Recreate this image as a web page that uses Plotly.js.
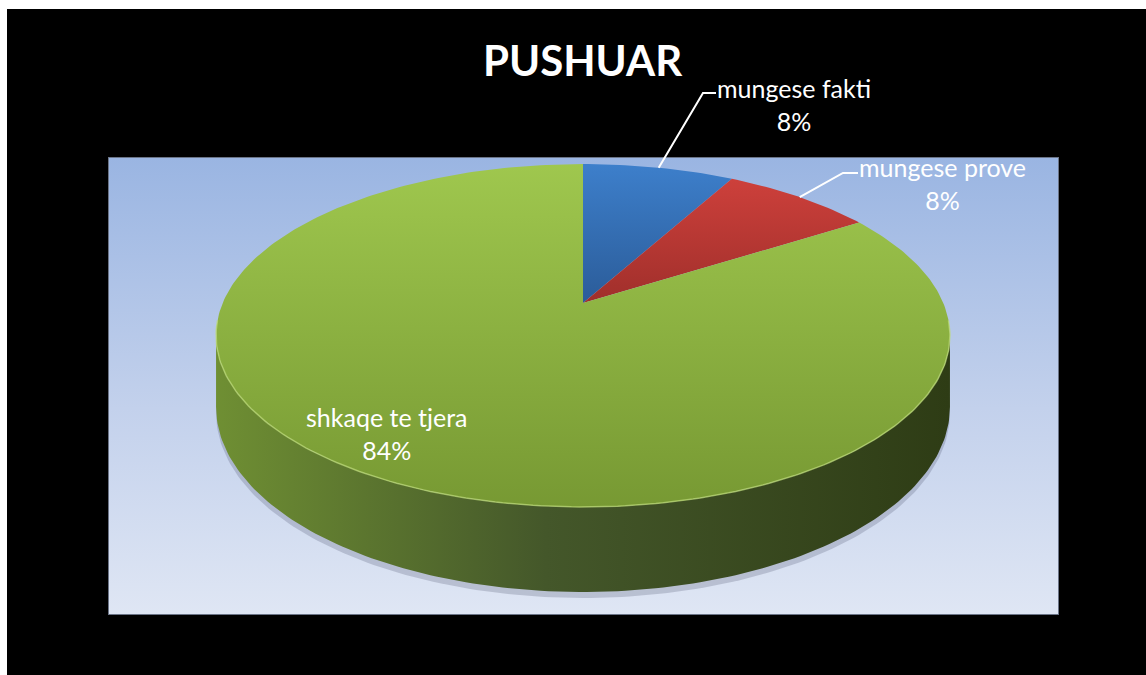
<!DOCTYPE html>
<html>
<head>
<meta charset="utf-8">
<script src="https://cdn.plot.ly/plotly-3.0.1.min.js"></script>
<style>
  html, body { margin:0; padding:0; width:1146px; height:675px; background:#ffffff; overflow:hidden; }
  #frame { position:absolute; left:7px; top:9px; right:0; bottom:0; background:#000000; }
  #area { position:absolute; left:108px; top:157px; width:949px; height:456px;
          background:linear-gradient(#9ab5e2, #c3d1ec 55%, #dfe6f4); border:1px solid #6b7487; }
  #chart { position:absolute; left:0; top:0; width:1146px; height:675px; }
</style>
</head>
<body>
<div id="frame"></div>
<div id="area"></div>
<div id="chart"></div>
<script>
// ---- data ----
const titleText = 'PUSHUAR';
const labels = ['mungese fakti', 'mungese prove', 'shkaqe te tjera'];
const values = [8, 8, 84];

// ---- style ----
const topColors = [
  [[0, '#3d7fcb'], [1, '#2b5c99']],
  [[0, '#cd403b'], [1, '#a02f2b']],
  [[0, '#9fc74e'], [1, '#779933']]
];
const wallColors = [
  [[0, '#2f5f9e'], [1, '#1c3a61']],
  [[0, '#a3302c'], [1, '#5e1b19']],
  [[0, '#6f8f33'], [0.45, '#44572a'], [1, '#2e3c15']]
];
// projection geometry (pixels)
const G = {cx: 583, cy: 303, S: 360.3, T: 165.3, k: 0.1895, D: 68.9};
const labelPos = [
  {x: 794, y: 104, elbow: [703, 93], end: [716, 93]},
  {x: 942, y: 183, elbow: [843, 173], end: [858, 173]},
  {x: 387, y: 433}
];

function rim(deg, drop) {
  const p = deg * Math.PI / 180;
  const den = 1 + G.k * Math.cos(p);
  return [G.cx + G.S * Math.sin(p) / den,
          G.cy - G.T * Math.cos(p) / den + drop * G.D / den];
}
function arc(a0, a1, drop) {
  const pts = [];
  const n = Math.max(2, Math.ceil(Math.abs(a1 - a0)));
  for (let i = 0; i <= n; i++) pts.push(rim(a0 + (a1 - a0) * i / n, drop));
  return pts;
}

const total = values.reduce((a, b) => a + b, 0);
const starts = [], ends = [];
let acc = 0;
values.forEach(v => { starts.push(acc / total * 360); acc += v; ends.push(acc / total * 360); });

const traces = [];
// soft shadow under the pie
const sh = arc(80, 280, 1).map(p => [p[0], p[1] + 6]);
traces.push({x: sh.map(p => p[0]), y: sh.map(p => p[1]), mode: 'lines', fill: 'toself',
  line: {width: 0, color: 'rgba(0,0,0,0)'}, fillcolor: 'rgba(60,65,90,0.22)', hoverinfo: 'skip'});

// side walls (visible front part)
const phiL = Math.acos(-G.k) * 180 / Math.PI, phiR = 360 - phiL;
values.forEach((v, i) => {
  const s = Math.max(starts[i], phiL), e = Math.min(ends[i], phiR);
  if (e <= s) return;
  const top = arc(s, e, 0), bot = arc(e, s, 1);
  const pts = top.concat(bot);
  traces.push({x: pts.map(p => p[0]), y: pts.map(p => p[1]), mode: 'lines', fill: 'toself',
    line: {width: 0, color: 'rgba(0,0,0,0)'},
    fillgradient: {type: 'horizontal', start: G.cx - 367, stop: G.cx + 367, colorscale: wallColors[i]},
    hoverinfo: 'skip'});
});

// top faces
values.forEach((v, i) => {
  const pts = [[G.cx, G.cy]].concat(arc(starts[i], ends[i], 0)).concat([[G.cx, G.cy]]);
  const ys = pts.map(p => p[1]);
  traces.push({x: pts.map(p => p[0]), y: ys, mode: 'lines', fill: 'toself',
    line: {width: 0, color: 'rgba(0,0,0,0)'},
    fillgradient: {type: 'vertical', start: Math.min(...ys), stop: Math.max(...ys), colorscale: topColors[i]},
    hoverinfo: 'skip'});
});

// rim highlight on the front edge
const hl = arc(phiL - 5, phiR + 5, 0);
traces.push({x: hl.map(p => p[0]), y: hl.map(p => p[1]), mode: 'lines',
  line: {width: 1.5, color: 'rgba(190,220,120,0.7)'}, hoverinfo: 'skip'});

// leader lines + labels
const annotations = [{
  text: '<b>' + titleText + '</b>', x: 583, y: 60, xref: 'x', yref: 'y', showarrow: false,
  font: {family: 'Lato, sans-serif', size: 42, color: '#ffffff'}, xanchor: 'center', yanchor: 'middle'
}];
values.forEach((v, i) => {
  const lp = labelPos[i];
  if (lp.elbow) {
    const mid = (starts[i] + ends[i]) / 2;
    const a = rim(mid, 0);
    traces.push({x: [a[0], lp.elbow[0], lp.end[0]], y: [a[1], lp.elbow[1], lp.end[1]], mode: 'lines',
      line: {width: 2, color: '#ffffff'}, hoverinfo: 'skip'});
  }
  annotations.push({
    text: labels[i] + '<br>' + Math.round(v / total * 100) + '%', x: lp.x, y: lp.y, xref: 'x', yref: 'y',
    showarrow: false, align: 'center', xanchor: 'center', yanchor: 'middle',
    font: {family: 'Lato, sans-serif', size: 25, color: '#ffffff'}
  });
});

const layout = {
  width: 1146, height: 675,
  margin: {l: 0, r: 0, t: 0, b: 0},
  paper_bgcolor: 'rgba(0,0,0,0)', plot_bgcolor: 'rgba(0,0,0,0)',
  showlegend: false,
  xaxis: {range: [0, 1146], visible: false, fixedrange: true},
  yaxis: {range: [675, 0], visible: false, fixedrange: true},
  annotations: annotations
};
Plotly.newPlot('chart', traces, layout, {staticPlot: true, displayModeBar: false});
</script>
</body>
</html>
